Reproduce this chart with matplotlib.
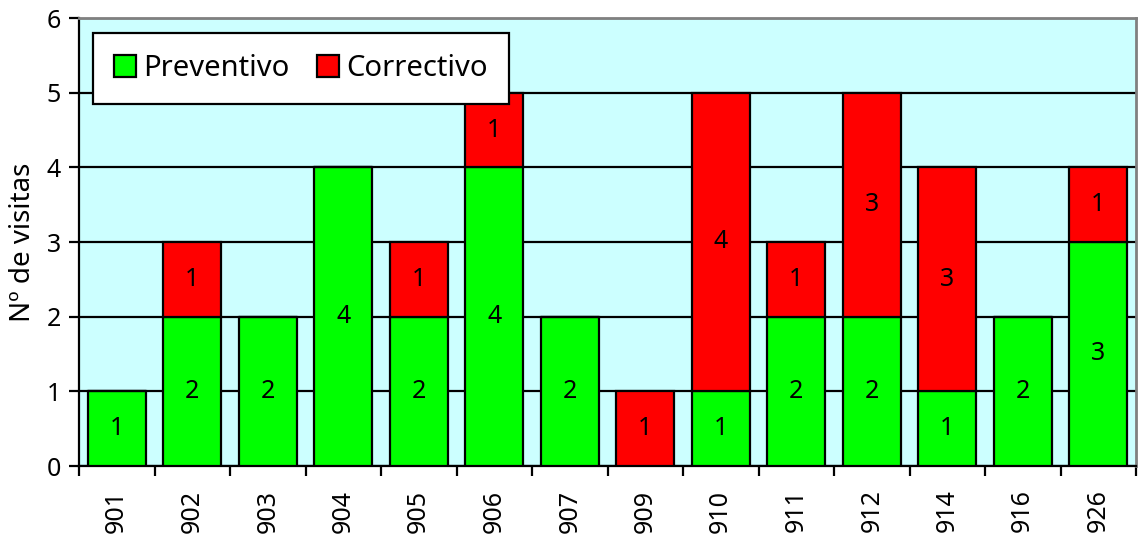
import matplotlib
matplotlib.use("Agg")
import matplotlib.pyplot as plt
import numpy as np

categories = ["901", "902", "903", "904", "905", "906", "907", "909", "910", "911", "912", "914", "916", "926"]
preventivo = [1, 2, 2, 4, 2, 4, 2, 0, 1, 2, 2, 1, 2, 3]
correctivo = [0, 1, 0, 0, 1, 1, 0, 1, 4, 1, 3, 3, 0, 1]

plt.rcParams['font.family'] = ['Noto Sans', 'DejaVu Sans']

fig = plt.figure(figsize=(11.38, 5.34), dpi=100)
ax = fig.add_axes([79/1138, 68/534, 1057/1138, 448/534])
ax.set_facecolor('#CCFFFF')

x = np.arange(len(categories))
w = 0.77
prev = np.array(preventivo)
corr = np.array(correctivo)
ax.bar(x, prev, w, color='#00FF00', edgecolor='black', linewidth=1.6, zorder=3, label='Preventivo')
ax.bar(x, corr, w, bottom=prev, color='#FF0000', edgecolor='black', linewidth=1.6, zorder=3, label='Correctivo')

for i in range(len(categories)):
    if prev[i] > 0:
        ax.text(x[i], prev[i] / 2, str(prev[i]), ha='center', va='center', fontsize=18, zorder=4)
    if corr[i] > 0:
        ax.text(x[i], prev[i] + corr[i] / 2, str(corr[i]), ha='center', va='center', fontsize=18, zorder=4)

ax.set_xlim(-0.5, len(categories) - 0.5)
ax.set_ylim(0, 6)
ax.set_yticks(range(0, 7))
ax.yaxis.grid(True, color='black', linewidth=1.6, zorder=1)
ax.set_axisbelow(True)

ax.set_xticks(x)
ax.set_xticklabels(categories, rotation=90, fontsize=18)
ax.tick_params(axis='x', length=0, pad=17)
ax.set_xticks(np.arange(-0.5, len(categories), 1), minor=True)
ax.tick_params(axis='x', which='minor', length=7, width=1.6, direction='out')
ax.tick_params(axis='y', labelsize=18, length=7, width=1.6, direction='out', pad=6)
ax.set_ylabel('Nº de visitas', fontsize=20, labelpad=7)

for s in ['left', 'bottom']:
    ax.spines[s].set_linewidth(1.6)
    ax.spines[s].set_color('black')
for s in ['top', 'right']:
    ax.spines[s].set_linewidth(2)
    ax.spines[s].set_color('#808080')

leg = ax.legend(loc='upper left', bbox_to_anchor=(0.013, 0.966), ncol=2, fontsize=21,
                frameon=True, fancybox=False, edgecolor='black', framealpha=1,
                handlelength=0.75, handleheight=0.75, handletextpad=0.25, columnspacing=0.95,
                borderpad=0.72, borderaxespad=0)
leg.get_frame().set_linewidth(1.6)
leg.set_zorder(5)

fig.savefig('out.png', dpi=100)
